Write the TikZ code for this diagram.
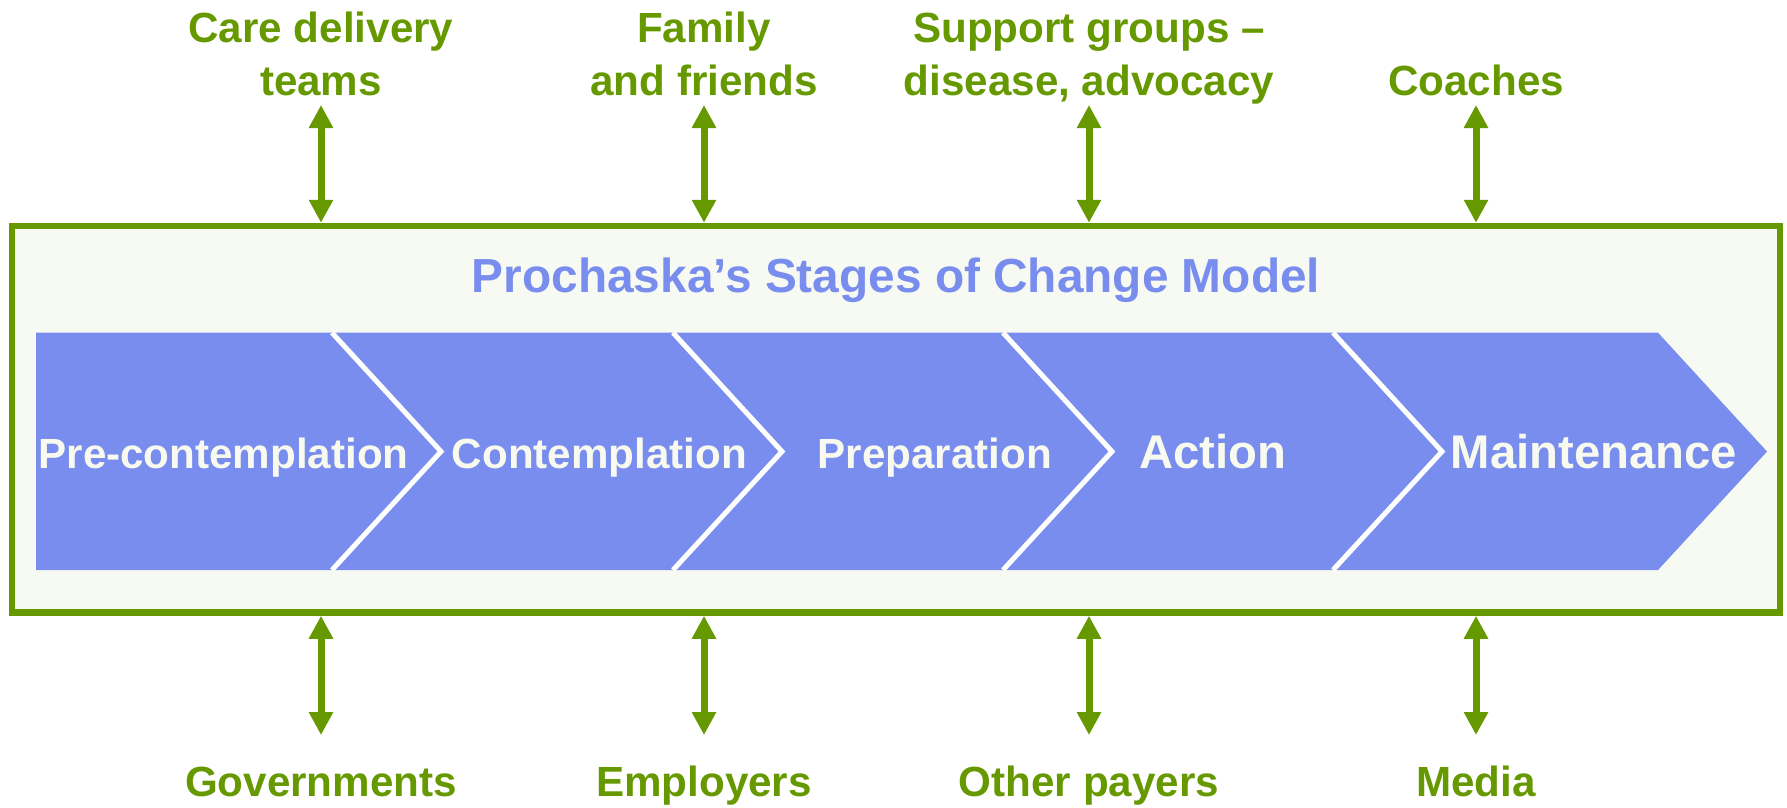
\documentclass[tikz,border=0pt]{standalone}
\usepackage{fontspec}
\setmainfont{Liberation Sans}
\usetikzlibrary{arrows.meta, positioning, calc}
\definecolor{stageblue}{RGB}{120,141,237}
\definecolor{partygreen}{RGB}{102,153,0}
\definecolor{panelfill}{RGB}{247,250,242}
\definecolor{stagetext}{RGB}{248,250,240}

\begin{document}
\begin{tikzpicture}[
  frame/.style={draw=partygreen, line width=0.065cm, fill=panelfill, minimum width=17.68cm, minimum height=3.865cm, inner sep=0pt},
  party/.style={text=partygreen, font=\fontsize{12}{14.8}\selectfont\bfseries, align=center, anchor=base, inner sep=0pt},
  stage/.style={fill=stageblue},
  gap/.style={draw=white, line width=0.05cm},
  stagename/.style={text=stagetext, font=\fontsize{12}{14}\selectfont\bfseries, anchor=base, inner sep=0pt},
  bigstage/.style={stagename, font=\fontsize{13.45}{16}\selectfont\bfseries},
  link/.style={draw=partygreen, line width=0.07cm, {Triangle[width=0.23cm,length=0.23cm]}-{Triangle[width=0.23cm,length=0.23cm]}},
]
\useasboundingbox (0,0) rectangle (17.87,-8.07);

\node[frame] (model) at (8.96,-4.1925) {};
\node[text=stageblue, font=\fontsize{13.6}{16}\selectfont\bfseries, anchor=base, inner sep=0pt] (title) at (8.96,-2.92) {Prochaska’s Stages of Change Model};

% chevrons
\fill[stage] (0.36,-3.327) -- (3.32,-3.327) -- (4.41,-4.515) -- (3.32,-5.70) -- (0.36,-5.70) -- cycle;
\foreach \a/\b in {3.32/6.73, 6.73/10.03, 10.03/13.33, 13.33/16.58}
  \fill[stage] (\a,-3.327) -- (\b,-3.327) -- (\b+1.09,-4.515) -- (\b,-5.70) -- (\a,-5.70) -- (\a+1.09,-4.515) -- cycle;
\foreach \a in {3.32, 6.73, 10.03, 13.33}
  \draw[gap] (\a,-3.327) -- (\a+1.09,-4.515) -- (\a,-5.70);

\node[stagename] (precontemplation) at (2.236,-4.68) {Pre-contemplation};
\node[stagename] (contemplation) at (5.995,-4.68) {Contemplation};
\node[stagename] (preparation) at (9.347,-4.68) {Preparation};
\node[bigstage] (action) at (12.13,-4.68) {Action};
\node[bigstage] (maintenance) at (15.94,-4.68) {Maintenance};

% parties above and below
\foreach \x/\txt [count=\i] in {3.21/{Care delivery\\teams}, 7.04/{Family\\and friends}, 10.89/{Support groups –\\disease, advocacy}, 14.76/Coaches} {
  \node[party] (top\i) at (\x,-0.95) {\txt};
  \coordinate (topend\i) at (\x,-1.05);
  \draw[link] (topend\i) -- (topend\i |- model.north);
}
\foreach \x/\txt [count=\i] in {3.21/Governments, 7.04/Employers, 10.89/Other payers, 14.76/Media} {
  \node[party] (bottom\i) at (\x,-7.96) {\txt};
  \coordinate (bottomend\i) at (\x,-7.35);
  \draw[link] (bottomend\i |- model.south) -- (bottomend\i);
}
\end{tikzpicture}
\end{document}
